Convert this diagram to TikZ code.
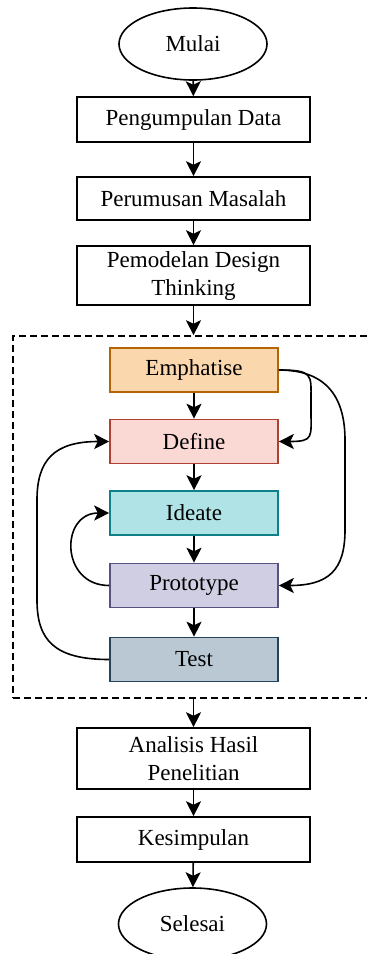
\documentclass[tikz,border=0pt]{standalone}
\usepackage{fontspec}
\setmainfont{Liberation Serif}
\usetikzlibrary{shapes.geometric,arrows.meta}
\definecolor{empfill}{HTML}{FAD7AC}
\definecolor{empline}{HTML}{B46504}
\definecolor{deffill}{HTML}{FAD9D5}
\definecolor{defline}{HTML}{AE4132}
\definecolor{idefill}{HTML}{B0E3E6}
\definecolor{ideline}{HTML}{0E8088}
\definecolor{profill}{HTML}{D0CEE2}
\definecolor{proline}{HTML}{56517E}
\definecolor{tesfill}{HTML}{BAC8D3}
\definecolor{tesline}{HTML}{23445D}
\tikzset{
  terminal/.style={ellipse, draw, line width=0.8pt, minimum width=74pt, minimum height=36pt, inner sep=0pt},
  process/.style={rectangle, draw, line width=0.8pt, minimum width=116.5pt, minimum height=22.5pt, align=center, inner sep=2pt},
  phase/.style={rectangle, draw, line width=0.8pt, minimum width=84pt, minimum height=22pt, inner sep=2pt},
  group/.style={rectangle, draw, line width=0.8pt, dash pattern=on 3.5pt off 2pt, minimum width=179.5pt, minimum height=181pt},
  flow/.style={-{Stealth[length=7.5pt,width=7.5pt,inset=1.8pt]}, line width=0.8pt}
}

\begin{document}
\begin{tikzpicture}[x=0.5pt, y=-0.5pt, font=\fontsize{11.5}{14}\selectfont]
  \useasboundingbox (0,0) rectangle (367,954);
  \clip (0,0) rectangle (367,954);

  \node[terminal] (mulai) at (193,44) {Mulai};
  \node[process] (data) at (193.5,119.5) {Pengumpulan Data};
  \node[process, minimum height=21.5pt] (masalah) at (193.5,198.5) {Perumusan Masalah};
  \node[process, minimum height=29.5pt] (model) at (193.5,275.5) {Pemodelan Design\\Thinking};

  \node[group] (dt) at (192.5,517) {};
  \node[phase, fill=empfill, draw=empline] (emp) at (194,370) {Emphatise};
  \node[phase, fill=deffill, draw=defline] (def) at (194,441.5) {Define};
  \node[phase, fill=idefill, draw=ideline] (ide) at (194,513) {Ideate};
  \node[phase, fill=profill, draw=proline] (pro) at (194,585.5) {Prototype};
  \node[phase, fill=tesfill, draw=tesline] (tes) at (194,659.5) {Test};

  \node[process, minimum height=30.5pt] (hasil) at (193.5,758.5) {Analisis Hasil\\Penelitian};
  \node[process] (simpul) at (193.5,839.5) {Kesimpulan};
  \node[terminal] (selesai) at (192.5,924) {Selesai};

  \draw[flow] (mulai) -- (data);
  \draw[flow] (data) -- (masalah);
  \draw[flow] (masalah) -- (model);
  \draw[flow] (model.south) -- (model.south |- dt.north);
  \draw[flow] (emp) -- (def);
  \draw[flow] (def) -- (ide);
  \draw[flow] (ide) -- (pro);
  \draw[flow] (pro) -- (tes);
  \draw[flow] (hasil.north |- dt.south) -- (hasil.north);
  \draw[flow] (hasil) -- (simpul);
  \draw[flow] (simpul) -- (selesai);

  \draw[flow] (emp.east) .. controls +(35,0) and +(0,-25) .. (311,400) -- (311,412)
    .. controls +(0,25) and +(35,0) .. (def.east);
  \draw[flow] (emp.east) .. controls +(50,0) and +(0,-40) .. (345,440) -- (345,530)
    .. controls +(0,40) and +(50,0) .. (pro.east);
  \draw[flow] (tes.west) .. controls +(-55,0) and +(0,40) .. (37,600) -- (37,500)
    .. controls +(0,-40) and +(-55,0) .. (def.west);
  \draw[flow] (pro.west) .. controls (60,585.5) and (60,513) .. (ide.west);
\end{tikzpicture}
\end{document}
